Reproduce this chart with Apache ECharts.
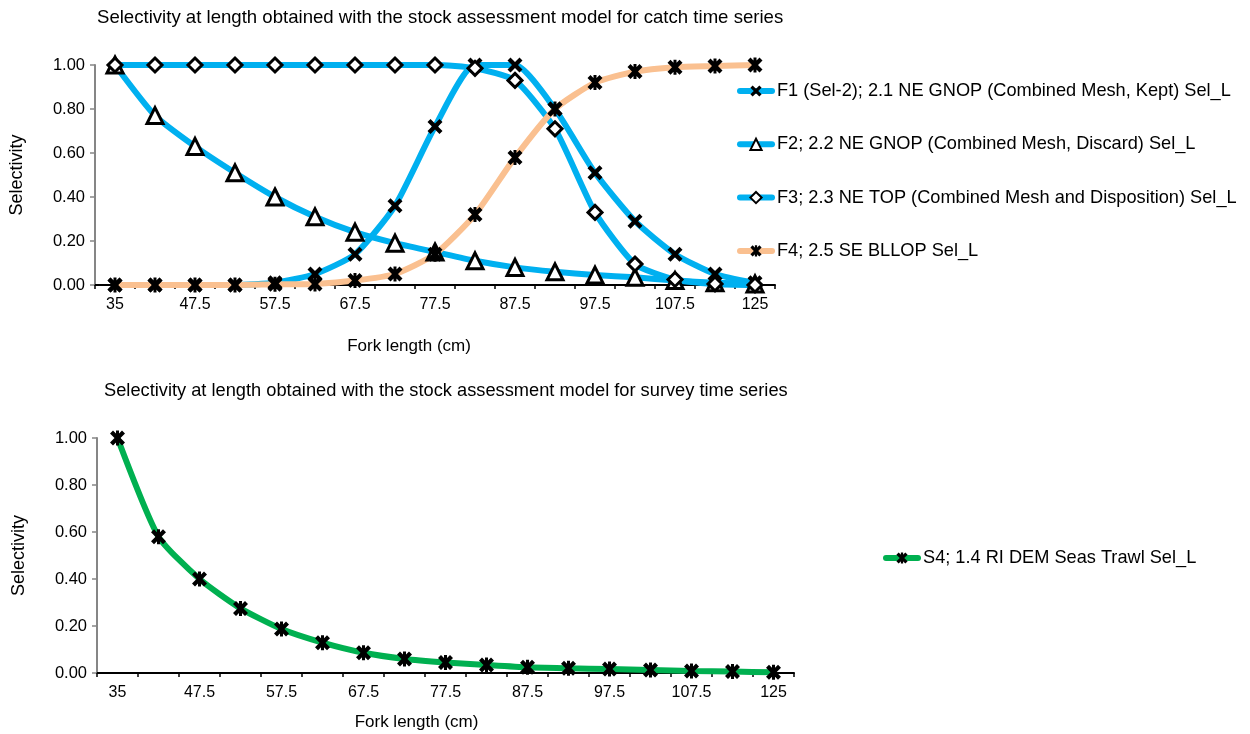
<!DOCTYPE html>
<html><head><meta charset="utf-8">
<script src="https://cdn.jsdelivr.net/npm/echarts@6/dist/echarts.min.js"></script>
<style>html,body{margin:0;padding:0;background:#fff}#c{width:1250px;height:734px}</style>
</head><body><div id="c"></div>
<script>
const categories = ['35','42.5','47.5','52.5','57.5','62.5','67.5','72.5','77.5','82.5','87.5','92.5','97.5','102.5','107.5','115','125'];
const yTicks = [0, 0.2, 0.4, 0.6, 0.8, 1.0];
const f1 = [0,0,0,0,0.01,0.05,0.14,0.36,0.72,1.00,1.00,0.80,0.51,0.29,0.14,0.05,0.01];
const f2 = [1.00,0.77,0.63,0.51,0.40,0.31,0.24,0.19,0.15,0.11,0.08,0.06,0.045,0.035,0.02,0.01,0.005];
const f3 = [1,1,1,1,1,1,1,1,1,0.985,0.93,0.71,0.33,0.095,0.025,0.005,0];
const f4 = [0,0,0,0,0.003,0.005,0.02,0.05,0.14,0.32,0.58,0.80,0.92,0.97,0.99,0.995,1.0];
const s4 = [1.00,0.58,0.40,0.275,0.187,0.129,0.086,0.06,0.045,0.034,0.024,0.02,0.017,0.013,0.008,0.006,0.003];
const names = {
  f1: 'F1 (Sel-2); 2.1 NE GNOP (Combined Mesh, Kept) Sel_L',
  f2: 'F2; 2.2 NE GNOP (Combined Mesh, Discard) Sel_L',
  f3: 'F3; 2.3 NE TOP (Combined Mesh and Disposition) Sel_L',
  f4: 'F4; 2.5 SE BLLOP Sel_L',
  s4: 'S4; 1.4 RI DEM Seas Trawl Sel_L'
};
const titles = ['Selectivity at length obtained with the stock assessment model for catch time series',
                'Selectivity at length obtained with the stock assessment model for survey time series'];
const FONT = "'Liberation Sans', Arial, sans-serif";
const BLUE = '#00B0F0', ORANGE = '#FAC090', GREEN = '#00B050';
const X_SYM = 'path://M0,2L2,0L5,3L8,0L10,2L7,5L10,8L8,10L5,7L2,10L0,8L3,5Z';
const STAR_SYM = 'path://M0,2L2,0L5,3L8,0L10,2L7,5L10,8L8,10L5,7L2,10L0,8L3,5ZM4,0L6,0L6,10L4,10Z';

function xAxis(gi){
  return {type:'category', gridIndex:gi, data:categories, boundaryGap:true,
    name:'Fork length (cm)', nameLocation:'middle', nameGap: gi===0?53:41,
    nameTextStyle:{fontFamily:FONT, fontSize:17, color:'#000', padding: gi===0?[0,52,0,0]:[0,58,0,0]},
    axisLine:{lineStyle:{color:'#000', width:2}},
    axisTick:{show:true, interval:0, length:4, lineStyle:{color:'#000', width:1.5}},
    axisLabel:{interval:1, fontFamily:FONT, fontSize:16, color:'#000', margin:12},
    splitLine:{show:false}};
}
function yAxis(gi){
  return {type:'value', gridIndex:gi, min:yTicks[0], max:yTicks[yTicks.length-1], interval:0.2,
    name:'Selectivity', nameLocation:'middle', nameGap:69,
    nameTextStyle:{fontFamily:FONT, fontSize:18, color:'#000'},
    axisLine:{show:true, lineStyle:{color:'#868686', width:2}},
    axisTick:{show:true, length:5, lineStyle:{color:'#868686', width:1.5}},
    axisLabel:{fontFamily:FONT, fontSize:16.5, color:'#000', margin:10, formatter:v=>v.toFixed(2)},
    splitLine:{show:false}};
}
function ser(name, data, gi, color, sym, hollow, size){
  return {name, type:'line', xAxisIndex:gi, yAxisIndex:gi, data, smooth:0.2,
    symbol:sym, symbolSize:size, showSymbol:true,
    lineStyle:{color, width:6},
    itemStyle: hollow ? {color:'#fff', borderColor:'#000', borderWidth:3} : {color:'#000', borderWidth:0},
    emphasis:{disabled:true}, animation:false};
}
const legendCommon = {orient:'vertical', itemWidth:32, itemHeight:14, padding:0,
  lineStyle:{width:6, cap:'round'},
  textStyle:{fontFamily:FONT, fontSize:18.2, color:'#000', lineHeight:20}};
const chart = echarts.init(document.getElementById('c'), null, {renderer:'canvas'});
chart.setOption({
  animation:false,
  title:[
    {text:titles[0], left:97, top:8, padding:0, textStyle:{fontFamily:FONT, fontSize:18.6, fontWeight:'normal', color:'#000'}},
    {text:titles[1], left:104, top:382, padding:0, textStyle:{fontFamily:FONT, fontSize:18.25, fontWeight:'normal', color:'#000'}}
  ],
  grid:[
    {left:95, top:65, width:680, height:220, containLabel:false},
    {left:97, top:438, width:697, height:235, containLabel:false}
  ],
  xAxis:[xAxis(0), xAxis(1)],
  yAxis:[yAxis(0), yAxis(1)],
  legend:[
    Object.assign({data:[names.f1,names.f2,names.f3,names.f4], left:737, top:81, itemGap:33.3}, legendCommon),
    Object.assign({data:[names.s4], left:883, top:548}, legendCommon)
  ],
  series:[
    ser(names.f1, f1, 0, BLUE, X_SYM, false, 15),
    ser(names.f2, f2, 0, BLUE, 'triangle', true, 16),
    ser(names.f3, f3, 0, BLUE, 'diamond', true, 14),
    ser(names.f4, f4, 0, ORANGE, STAR_SYM, false, 15),
    ser(names.s4, s4, 1, GREEN, STAR_SYM, false, 15)
  ]
});
</script></body></html>
